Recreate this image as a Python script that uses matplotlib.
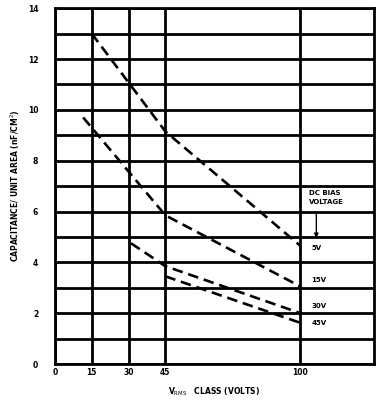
import matplotlib
matplotlib.use("Agg")
import matplotlib.pyplot as plt

# bias voltage curves: (V_rms class, capacitance per area)
x_5v = [15, 45, 100]
y_5v = [13.0, 9.15, 4.65]
x_15v = [11.5, 45, 100]
y_15v = [9.7, 5.85, 3.05]
x_30v = [31, 45, 100]
y_30v = [4.75, 3.85, 2.0]
x_45v = [45, 100]
y_45v = [3.45, 1.62]

curve_labels = ["5V", "15V", "30V", "45V"]
label_y = [4.55, 3.3, 2.3, 1.6]

x_grid = [0, 15, 30, 45, 100]
x_ticklabels = ["0", "15", "30", "45", "100"]
y_ticks = [0, 2, 4, 6, 8, 10, 12, 14]

fig = plt.figure(figsize=(3.84, 4.09), dpi=100)
ax = fig.add_axes([0.143, 0.110, 0.831, 0.870])
ax.set_xlim(0, 130)
ax.set_ylim(0, 14)

# heavy grid
for gx in x_grid:
    ax.axvline(gx, color="black", lw=2.0, zorder=1)
for gy in range(0, 15):
    ax.axhline(gy, color="black", lw=2.0, zorder=1)
for s in ax.spines.values():
    s.set_linewidth(2.0)

dash = (0, (4, 2.2))
for xs, ys in [(x_5v, y_5v), (x_15v, y_15v), (x_30v, y_30v), (x_45v, y_45v)]:
    ax.plot(xs, ys, color="black", lw=1.9, linestyle=dash, zorder=3)

txt = dict(fontsize=5, fontweight="bold", color="black")
ax.text(103.5, 6.55, "DC BIAS\nVOLTAGE", ha="left", va="center", linespacing=1.6, **txt)
ax.annotate("", xy=(106.5, 4.85), xytext=(106.5, 6.05),
            arrowprops=dict(arrowstyle="-|>", color="black", lw=1.0, mutation_scale=6))
for lab, ly in zip(curve_labels, label_y):
    ax.text(104.5, ly, lab, ha="left", va="center", **txt)

ax.set_xticks(x_grid)
ax.set_xticklabels(x_ticklabels)
ax.set_yticks(y_ticks)
ax.tick_params(length=0, labelsize=5.5)
ax.tick_params(axis="x", pad=3)
ax.tick_params(axis="y", pad=12)
for t in ax.get_xticklabels() + ax.get_yticklabels():
    t.set_fontweight("bold")

ax.set_xlabel(r"V$_{\mathrm{RMS}}$   CLASS (VOLTS)", fontsize=5.5, fontweight="bold", labelpad=6)
ax.set_ylabel("CAPACITANCE/ UNIT AREA (nF/CM$^2$)", fontsize=5.5, fontweight="bold", labelpad=4)

fig.savefig("out.png", dpi=100)
